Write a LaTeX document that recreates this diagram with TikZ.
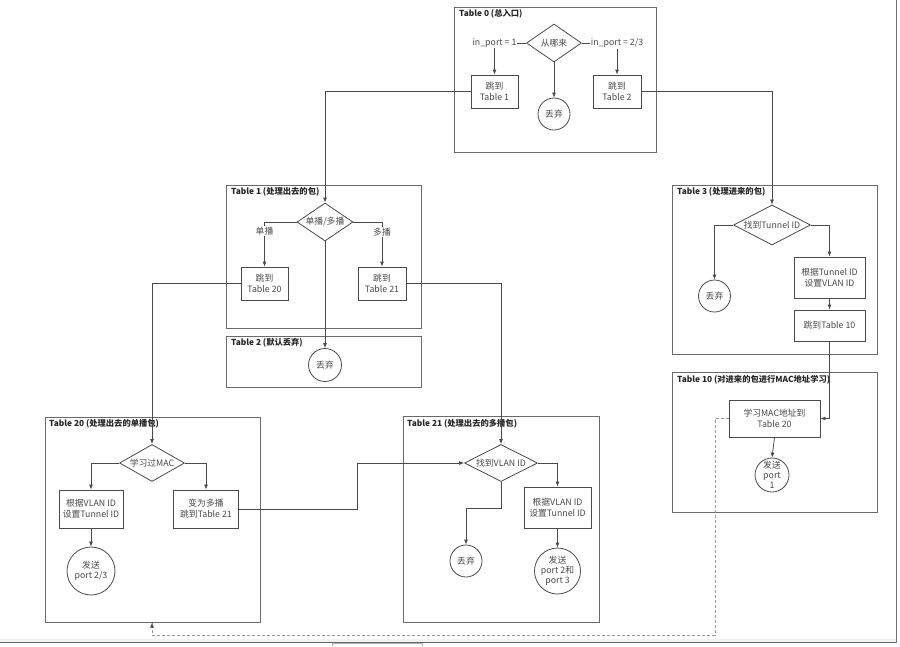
\documentclass[tikz,border=0pt]{standalone}
\usepackage{fontspec}
\setmainfont{Noto Sans CJK SC}
\usetikzlibrary{shapes.geometric,arrows.meta}
\definecolor{ln}{HTML}{4A4A4A}
\definecolor{tx}{HTML}{4A4A4A}
\definecolor{fr}{HTML}{6A6A6A}
\begin{document}
\begin{tikzpicture}[x=1pt,y=-1pt,
  tbl/.style={draw=fr,line width=0.9pt},
  ttl/.style={anchor=north west,inner sep=0pt,font=\fontsize{8.3}{10}\selectfont\bfseries,text=black!85},
  boxn/.style={draw=ln,line width=0.8pt,fill=white,inner sep=0pt,align=center,text=tx,font=\fontsize{8.8}{11}\selectfont},
  dia/.style={diamond,draw=ln,line width=0.8pt,fill=white,inner sep=0pt,align=center,text=tx,font=\fontsize{8.8}{11}\selectfont},
  circ/.style={circle,draw=ln,line width=0.8pt,fill=white,inner sep=0pt,align=center,text=tx,font=\fontsize{8.8}{10}\selectfont},
  arr/.style={draw=ln,line width=0.8pt,-{Latex[length=5pt,width=4pt]}},
  lbl/.style={fill=white,inner sep=1pt,text=tx,font=\fontsize{8.8}{10}\selectfont},
  dsh/.style={draw=gray!80,line width=0.8pt,dash pattern=on 3pt off 2pt}
]
\useasboundingbox (0,0) rectangle (900,646);
\fill[white] (0,0) rectangle (900,646);

% ---------- table frames ----------
\draw[tbl] (454,7) rectangle (656,152);
\node[ttl] (t0) at (459,9) {Table 0 (总入口)};
\draw[tbl] (226,185) rectangle (421,328);
\node[ttl] (t1) at (231,187) {Table 1 (处理出去的包)};
\draw[tbl] (226,336) rectangle (421,387);
\node[ttl] (t2) at (231,338) {Table 2 (默认丢弃)};
\draw[tbl] (672,185) rectangle (877,354);
\node[ttl] (t3) at (677,187) {Table 3 (处理进来的包)};
\draw[tbl] (672,372) rectangle (877,512);
\node[ttl] (t10) at (677,375) {Table 10 (对进来的包进行MAC地址学习)};
\draw[tbl] (45,417) rectangle (260,622);
\node[ttl] (t20) at (49,419) {Table 20 (处理出去的单播包)};
\draw[tbl] (403,416) rectangle (599,622);
\node[ttl] (t21) at (407,419) {Table 21 (处理出去的多播包)};

% ---------- Table 0 ----------
\node[dia,shape aspect=1.45,minimum width=55pt,minimum height=38pt] (d0) at (554,43) {从哪来};
\node[boxn,minimum width=47pt,minimum height=33pt] (b01) at (494.5,91.5) {跳到\\Table 1};
\node[boxn,minimum width=48pt,minimum height=33pt] (b02) at (617,91.5) {跳到\\Table 2};
\node[circ,minimum size=32pt] (c0) at (554,114) {丢弃};
\draw[arr] (d0.west) -| node[lbl,pos=0.5] {in\_port = 1} (b01.north);
\draw[arr] (d0.east) -| node[lbl,pos=0.5] {in\_port = 2/3} (b02.north);
\draw[arr] (d0.south) -- (c0.north);

% ---------- Table 1 / 2 ----------
\node[dia,shape aspect=1.47,minimum width=56pt,minimum height=38pt] (d1) at (325,222) {单播/多播};
\node[boxn,minimum width=47pt,minimum height=33pt] (b11) at (264.5,283.5) {跳到\\Table 20};
\node[boxn,minimum width=48pt,minimum height=33pt] (b12) at (382,283.5) {跳到\\Table 21};
\node[circ,minimum size=33pt] (c2) at (325,365) {丢弃};
\draw[arr] (d1.west) -| node[lbl,pos=0.6] {单播} (b11.north);
\draw[arr] (d1.east) -| node[lbl,pos=0.61] {多播} (b12.north);
\draw[arr] (d1.south) -- (c2.north);
\draw[arr] (b01.west) -| (d1.north);

% ---------- Table 3 ----------
\node[dia,shape aspect=1.92,minimum width=77pt,minimum height=40pt] (d3) at (772,225) {找到Tunnel ID};
\node[circ,minimum size=32pt] (c3) at (714.5,296) {丢弃};
\node[boxn,minimum width=71pt,minimum height=41pt] (b31) at (829.5,277.5) {根据Tunnel ID\\设置VLAN ID};
\node[boxn,minimum width=71pt,minimum height=31pt] (b32) at (829.5,325.5) {跳到Table 10};
\draw[arr] (b02.east) -| (d3.north);
\draw[arr] (d3.west) -| (c3.north);
\draw[arr] (d3.east) -| (b31.north);
\draw[arr] (b31.south) -- (b32.north);

% ---------- Table 10 ----------
\node[boxn,minimum width=91pt,minimum height=37pt] (b10) at (774.5,418.5) {学习MAC地址到\\Table 20};
\node[circ,minimum size=34pt] (c10) at (772,475) {发送\\port\\1};
\draw[arr] (b32.south) |- (b10.east);
\draw[arr] (b10.south) -- (c10.north);

% ---------- Table 20 ----------
\node[dia,shape aspect=1.76,minimum width=65pt,minimum height=37pt] (d20) at (152,463) {学习过MAC};
\node[boxn,minimum width=64pt,minimum height=38pt] (b201) at (91,509) {根据VLAN ID\\设置Tunnel ID};
\node[circ,minimum size=48pt] (c20) at (91,571) {发送\\port 2/3};
\node[boxn,minimum width=65pt,minimum height=38pt] (b202) at (206,509) {变为多播\\跳到Table 21};
\draw[arr] (b11.west) -| (d20.north);
\draw[arr] (d20.west) -| (b201.north);
\draw[arr] (b201.south) -- (c20.north);
\draw[arr] (d20.east) -| (b202.north);

% ---------- Table 21 ----------
\node[dia,shape aspect=1.97,minimum width=73pt,minimum height=37pt] (d21) at (501,463) {找到VLAN ID};
\node[circ,minimum size=32pt] (c211) at (466,561) {丢弃};
\node[boxn,minimum width=67pt,minimum height=41pt] (b21) at (557.5,507.5) {根据VLAN ID\\设置Tunnel ID};
\node[circ,minimum size=46pt] (c212) at (557.5,571) {发送\\port 2和\\port 3};
\draw[arr] (b12.east) -| (d21.north);
\coordinate (m1) at (357,509);
\draw[arr] (b202.east) -- (m1) |- (d21.west);
\coordinate (m2) at (501,508);
\draw[arr] (d21.south) -- (m2) -| (c211.north);
\draw[arr] (d21.east) -| (b21.north);
\draw[arr] (b21.south) -- (c212.north);

% ---------- dashed feedback ----------
\coordinate (q1) at (715,418.5);
\coordinate (q2) at (715,635);
\coordinate (q3) at (152,635);
\coordinate (q4) at (152,622.5);
\draw[dsh] (b10.west) -- (q1) -- (q2) -- (q3) -- (q4);
\draw[draw=ln,line width=0.8pt,-{Latex[length=5pt,width=4pt]}] (152,628) -- (q4);

% ---------- screenshot frame ----------
\fill[gray!10] (0,639) rectangle (896,642);
\draw[black!60,line width=1.6pt] (0,642.5) -- (897,642.5);
\draw[black!55,line width=1.4pt] (896.5,0) -- (896.5,643);
\draw[gray!60,line width=0.6pt] (332,646) -- (332,643.5) -- (422,643.5) -- (422,646);
\end{tikzpicture}
\end{document}
